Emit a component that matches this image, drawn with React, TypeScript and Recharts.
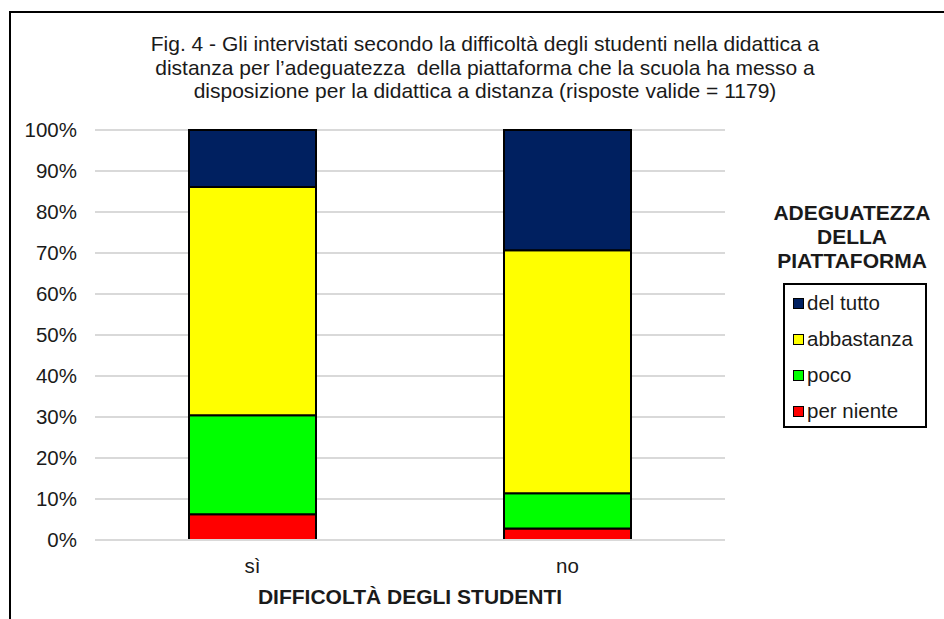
import { BarChart, Bar, XAxis, YAxis, CartesianGrid, Legend } from 'recharts';

const FONT = '"Liberation Sans", Arial, sans-serif';

const categories = ['sì', 'no'];
const perNiente = [6.3, 2.8];
const poco = [24.1, 8.6];
const abbastanza = [55.7, 59.3];
const delTutto = [13.9, 29.3];
const yTicks = [0, 10, 20, 30, 40, 50, 60, 70, 80, 90, 100];

const titleLines = [
  'Fig. 4 - Gli intervistati secondo la difficoltà degli studenti nella didattica a',
  'distanza per l\u2019adeguatezza  della piattaforma che la scuola ha messo a',
  'disposizione per la didattica a distanza (risposte valide = 1179)',
];
const legendTitle = ['ADEGUATEZZA', 'DELLA', 'PIATTAFORMA'];

// bottom to top in the stack
const series = [
  { key: 'perNiente', name: 'per niente', color: '#FF0000' },
  { key: 'poco', name: 'poco', color: '#00FF00' },
  { key: 'abbastanza', name: 'abbastanza', color: '#FFFF00' },
  { key: 'delTutto', name: 'del tutto', color: '#002060' },
];

const data = categories.map((c, i) => ({
  name: c,
  perNiente: perNiente[i],
  poco: poco[i],
  abbastanza: abbastanza[i],
  delTutto: delTutto[i],
}));

function LegendBox() {
  return (
    <div style={{ fontFamily: FONT, color: '#1a1a1a' }}>
      <div
        style={{
          fontWeight: 'bold',
          fontSize: 21,
          lineHeight: '24px',
          textAlign: 'center',
          width: 184,
        }}
      >
        {legendTitle.map((t) => (
          <div key={t}>{t}</div>
        ))}
      </div>
      <div
        style={{
          marginTop: 10,
          marginLeft: 23,
          width: 144,
          height: 145,
          border: '2px solid #000',
          boxSizing: 'border-box',
          paddingTop: 0,
        }}
      >
        {[...series].reverse().map((s) => (
          <div
            key={s.key}
            style={{
              display: 'flex',
              alignItems: 'center',
              height: 36,
              fontSize: 20.5,
              paddingLeft: 8,
            }}
          >
            <span
              style={{
                display: 'inline-block',
                width: 9,
                height: 9,
                background: s.color,
                border: '1.5px solid #000',
                marginRight: 3,
              }}
            />
            {s.name}
          </div>
        ))}
      </div>
    </div>
  );
}

export default function App() {
  return (
    <div
      style={{
        position: 'absolute',
        left: 0,
        top: 0,
        width: 944,
        height: 619,
        background: '#fff',
        overflow: 'hidden',
        fontFamily: FONT,
      }}
    >
      <div
        style={{
          position: 'absolute',
          left: 9,
          top: 11,
          width: 960,
          height: 640,
          borderLeft: '2px solid #000',
          borderTop: '2px solid #000',
        }}
      />
      <div
        style={{
          position: 'absolute',
          left: 0,
          top: 32,
          width: 970,
          textAlign: 'center',
          fontSize: 21,
          lineHeight: '23.5px',
          color: '#1a1a1a',
          whiteSpace: 'pre',
        }}
      >
        {titleLines.map((l) => (
          <div key={l}>{l}</div>
        ))}
      </div>
      <div style={{ position: 'absolute', left: 0, top: 0 }}>
        <BarChart
          width={944}
          height={619}
          data={data}
          margin={{ top: 130, right: 219, bottom: 0, left: 15 }}
        >
          <CartesianGrid vertical={false} stroke="#d9d9d9" strokeWidth={2} />
          <XAxis
            dataKey="name"
            axisLine={{ stroke: '#d9d9d9', strokeWidth: 2 }}
            tickLine={false}
            tickSize={0}
            tickMargin={18}
            height={79}
            tick={{ fontSize: 20.5, fill: '#1a1a1a', fontFamily: FONT }}
            label={{
              value: 'DIFFICOLTÀ DEGLI STUDENTI',
              position: 'insideBottom',
              offset: 15,
              fontSize: 21,
              fontWeight: 'bold',
              fill: '#1a1a1a',
              fontFamily: FONT,
            }}
          />
          <YAxis
            width={80}
            domain={[0, 100]}
            ticks={yTicks}
            axisLine={false}
            tickLine={false}
            tickSize={0}
            tickMargin={18}
            tickFormatter={(v) => `${v}%`}
            tick={{ fontSize: 20.5, fill: '#1a1a1a', fontFamily: FONT }}
          />
          <Legend
            layout="horizontal"
            verticalAlign="middle"
            align="center"
            content={() => <LegendBox />}
            wrapperStyle={{ left: 760, top: 201, width: 184 }}
          />
          {series.map((s) => (
            <Bar
              key={s.key}
              dataKey={s.key}
              name={s.name}
              stackId="a"
              fill={s.color}
              stroke="#000"
              strokeWidth={2}
              barSize={127}
              isAnimationActive={false}
            />
          ))}
        </BarChart>
      </div>
    </div>
  );
}
